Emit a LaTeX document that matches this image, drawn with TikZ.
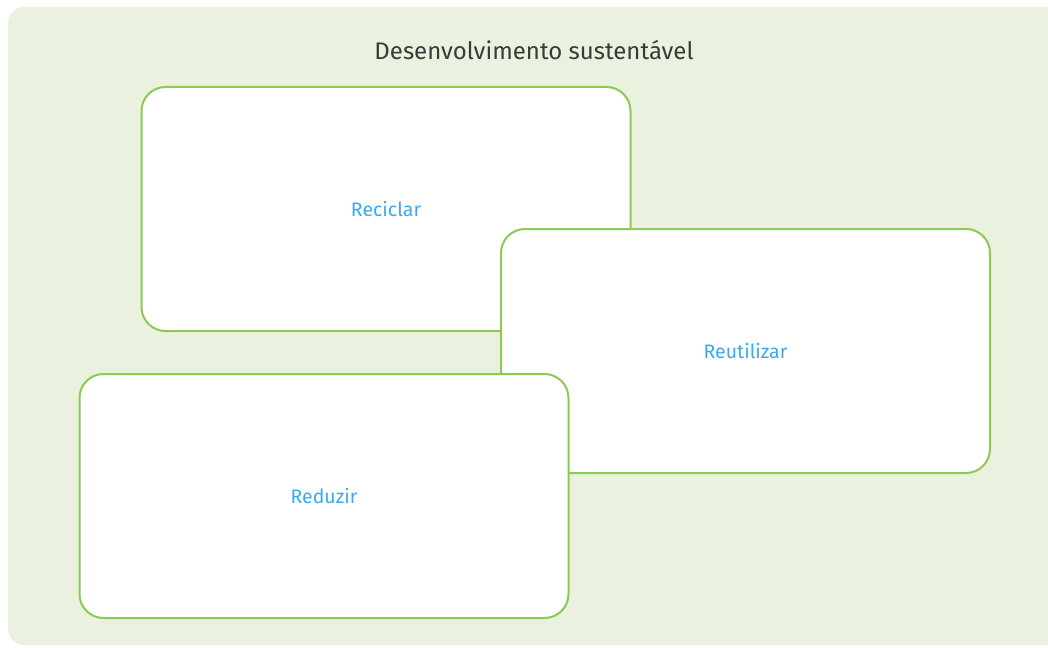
\documentclass[tikz,border=0pt]{standalone}
\usepackage{fontspec}
\setmainfont{Fira Sans}
\usetikzlibrary{positioning}
\definecolor{bgGreen}{HTML}{EAF2DF}
\definecolor{lineGreen}{HTML}{8DC955}
\definecolor{labelBlue}{HTML}{3AA9F2}
\definecolor{titleGray}{HTML}{3A3A3A}

\begin{document}
\begin{tikzpicture}[
  x=1pt, y=-1pt,
  every node/.style={font=\fontsize{19.5}{22}\selectfont},
  card/.style={draw=lineGreen, line width=2pt, fill=white, rounded corners=24pt,
    minimum width=489pt, minimum height=244pt, text=labelBlue, inner sep=0pt},
  title/.style={text=titleGray, font=\fontsize{24}{28}\selectfont}
]
  \useasboundingbox (0,0) rectangle (1048,647);
  % Background panel
  \fill[bgGreen, rounded corners=16pt] (8,7) rectangle (1070,645);
  \node[title] (title) at (534,50) {Desenvolvimento sustentável};
  % Cards, back to front
  \node[card] (reciclar)   at (386,209) {Reciclar};
  \node[card] (reutilizar) at (745.5,351) {Reutilizar};
  \node[card] (reduzir)    at (324,496) {Reduzir};
\end{tikzpicture}
\end{document}
